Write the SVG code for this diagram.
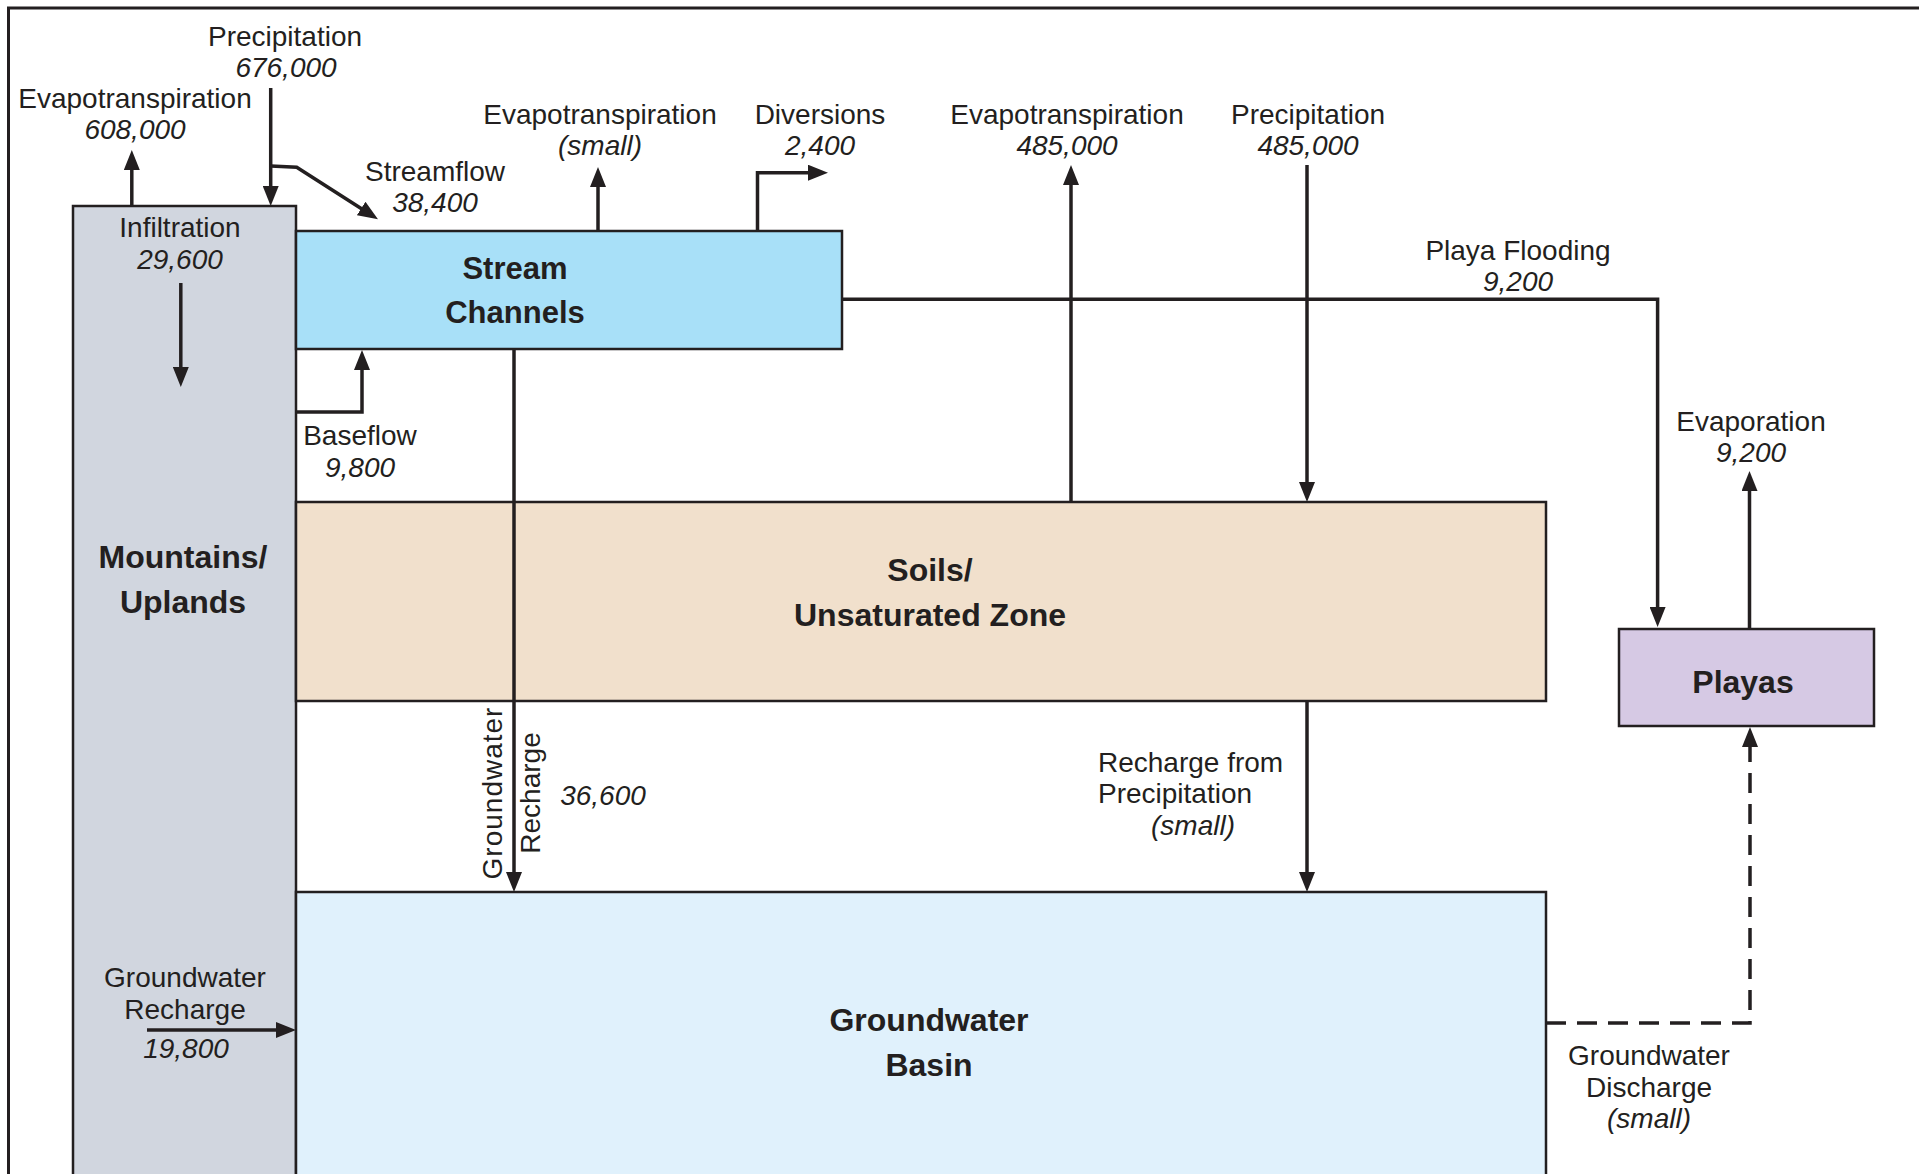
<svg xmlns="http://www.w3.org/2000/svg" width="1919" height="1174" viewBox="0 0 1919 1174">
<style>
text{font-family:"Liberation Sans",Arial,sans-serif;fill:#231f20}
.l{font-size:28px;text-anchor:middle}
.n{font-size:28px;font-style:italic;text-anchor:middle}
.b{font-size:32px;font-weight:bold;text-anchor:middle}
.box{stroke:#231f20;stroke-width:2.5}
.c{fill:none;stroke:#231f20;stroke-width:3.5;marker-end:url(#ah)}
.d{stroke-dasharray:20 11}
</style>
<defs>
<marker id="ah" markerUnits="userSpaceOnUse" viewBox="0 0 20 16" markerWidth="20" markerHeight="16" refX="13" refY="8" orient="auto">
<path d="M0,0 L20,8 L0,16 Z" fill="#231f20"/>
</marker>
</defs>
<rect width="1919" height="1174" fill="#ffffff"/>
<path d="M8.5,1180 V8 H1930" fill="none" stroke="#231f20" stroke-width="3"/>

<g id="mountains">
<rect class="box" x="73" y="206" width="223" height="1000" fill="#d1d6df"/>
<text class="b" x="183" y="568">Mountains/</text>
<text class="b" x="183" y="613">Uplands</text>
</g>
<g id="stream">
<rect class="box" x="296" y="231" width="546" height="118" fill="#a8e0f8"/>
<text class="b" x="515" y="279" style="font-size:31px">Stream</text>
<text class="b" x="515" y="323" style="font-size:31px">Channels</text>
</g>
<g id="soils">
<rect class="box" x="296" y="502" width="1250" height="199" fill="#f1e0cc"/>
<text class="b" x="930" y="581">Soils/</text>
<text class="b" x="930" y="626">Unsaturated Zone</text>
</g>
<g id="basin">
<rect class="box" x="296" y="892" width="1250" height="320" fill="#e0f1fc"/>
<text class="b" x="929" y="1031">Groundwater</text>
<text class="b" x="929" y="1076">Basin</text>
</g>
<g id="playas">
<rect class="box" x="1619" y="629" width="255" height="97" fill="#d6c9e4"/>
<text class="b" x="1743" y="693">Playas</text>
</g>

<g id="connectors">
<path class="c" d="M131.8,206 V157"/>
<path class="c" d="M270.7,88 V199"/>
<path class="c" d="M270.7,166 L296.7,167.3 L372.1,215.5"/>
<path class="c" d="M180.8,283 V380"/>
<path class="c" d="M598,231 V174"/>
<path class="c" d="M757.5,231 V172.7 H821"/>
<path class="c" d="M1071,502 V172"/>
<path class="c" d="M1307,165 V495"/>
<path class="c" d="M842,299.3 H1657.6 V620"/>
<path class="c" d="M1749.5,629 V478"/>
<path class="c" d="M296,412 H362 V357"/>
<path class="c" d="M514,349 V885"/>
<path class="c" d="M1307,701 V885"/>
<path class="c" d="M147,1030 H289"/>
<path class="c d" d="M1546,1023 H1750 V734"/>
</g>

<g id="labels">
<text class="l" x="285" y="45.5">Precipitation</text>
<text class="n" x="286" y="77">676,000</text>
<text class="l" x="135" y="107.5">Evapotranspiration</text>
<text class="n" x="135" y="139">608,000</text>
<text class="l" x="435" y="181">Streamflow</text>
<text class="n" x="435" y="212">38,400</text>
<text class="l" x="180" y="237">Infiltration</text>
<text class="n" x="180" y="269">29,600</text>
<text class="l" x="600" y="123.5">Evapotranspiration</text>
<text class="n" x="600" y="155">(small)</text>
<text class="l" x="820" y="123.5">Diversions</text>
<text class="n" x="820" y="155">2,400</text>
<text class="l" x="1067" y="123.5">Evapotranspiration</text>
<text class="n" x="1067" y="155">485,000</text>
<text class="l" x="1308" y="123.5">Precipitation</text>
<text class="n" x="1308" y="155">485,000</text>
<text class="l" x="1518" y="260">Playa Flooding</text>
<text class="n" x="1518" y="291">9,200</text>
<text class="l" x="1751" y="431">Evaporation</text>
<text class="n" x="1751" y="462">9,200</text>
<text class="l" x="360" y="445">Baseflow</text>
<text class="n" x="360" y="477">9,800</text>
<text class="l" transform="translate(502,793) rotate(-90)" style="letter-spacing:1px">Groundwater</text>
<text class="l" transform="translate(540,793) rotate(-90)">Recharge</text>
<text class="n" x="603" y="805">36,600</text>
<text class="l" x="1098" y="772" style="text-anchor:start">Recharge from</text>
<text class="l" x="1098" y="803" style="text-anchor:start">Precipitation</text>
<text class="n" x="1193" y="835">(small)</text>
<text class="l" x="185" y="987">Groundwater</text>
<text class="l" x="185" y="1019">Recharge</text>
<text class="n" x="186" y="1058">19,800</text>
<text class="l" x="1649" y="1065">Groundwater</text>
<text class="l" x="1649" y="1097">Discharge</text>
<text class="n" x="1649" y="1128">(small)</text>
</g>
</svg>
